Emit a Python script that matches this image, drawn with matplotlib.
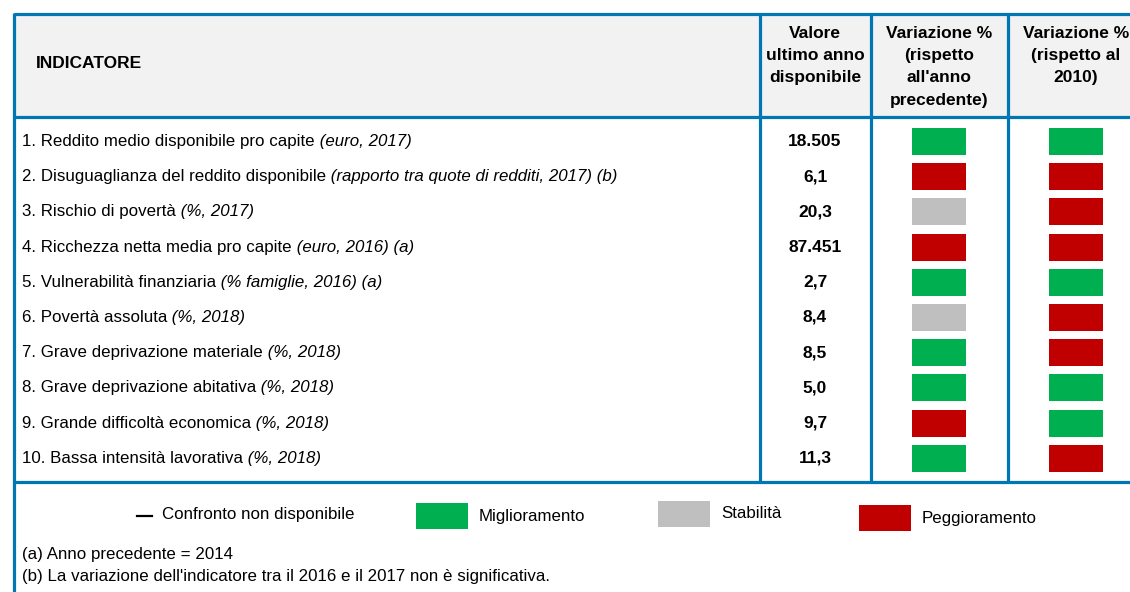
import matplotlib
matplotlib.use('Agg')
import matplotlib.pyplot as plt
from matplotlib.patches import Rectangle

plt.rcParams['font.family'] = ['Liberation Sans', 'DejaVu Sans']

# dati della tabella
nomi = ["1. Reddito medio disponibile pro capite",
        "2. Disuguaglianza del reddito disponibile",
        "3. Rischio di povertà",
        "4. Ricchezza netta media pro capite",
        "5. Vulnerabilità finanziaria",
        "6. Povertà assoluta",
        "7. Grave deprivazione materiale",
        "8. Grave deprivazione abitativa",
        "9. Grande difficoltà economica",
        "10. Bassa intensità lavorativa"]
dettagli = ["(euro, 2017)",
            "(rapporto tra quote di redditi, 2017) (b)",
            "(%, 2017)",
            "(euro, 2016) (a)",
            "(% famiglie, 2016) (a)",
            "(%, 2018)",
            "(%, 2018)",
            "(%, 2018)",
            "(%, 2018)",
            "(%, 2018)"]
valori = ["18.505", "6,1", "20,3", "87.451", "2,7", "8,4", "8,5", "5,0", "9,7", "11,3"]
# M = miglioramento, S = stabilita, P = peggioramento
var_anno_prec = ["M", "P", "S", "P", "M", "S", "M", "M", "P", "M"]
var_2010 = ["M", "P", "P", "P", "M", "P", "P", "M", "M", "P"]

intestazioni = [["Valore", "ultimo anno", "disponibile"],
                ["Variazione %", "(rispetto", "all'anno", "precedente)"],
                ["Variazione %", "(rispetto al", "2010)"]]
legenda_etichette = ["Miglioramento", "Stabilità", "Peggioramento"]
note = ["(a) Anno precedente = 2014",
        "(b) La variazione dell'indicatore tra il 2016 e il 2017 non è significativa."]

colori = {"M": "#00b050", "S": "#bfbfbf", "P": "#c00000"}
blu = "#0077b3"

fig = plt.figure(figsize=(11.3, 5.92), dpi=100)
ax = fig.add_axes([0, 0, 1, 1])
ax.set_xlim(0, 1130)
ax.set_ylim(592, 0)
ax.axis('off')

# sfondo intestazione
ax.add_patch(Rectangle((13, 13), 1140, 103, facecolor="#f2f2f2", edgecolor="none"))

# linee della tabella
lw = 2.3
for y in [13.5, 116.5, 481.5]:
    ax.plot([13.5, 1140], [y, y], color=blu, lw=lw, solid_capstyle='butt')
ax.plot([13.5, 13.5], [12.5, 600], color=blu, lw=lw, solid_capstyle='butt')
for x in [759.5, 870.5, 1007.5]:
    ax.plot([x, x], [12.5, 482.5], color=blu, lw=lw, solid_capstyle='butt')

fs = 12.2   # testo normale
fb = 12.5   # testo in grassetto
ax.text(36, 64, "INDICATORE", fontsize=fb, fontweight='bold', va='center', ha='left')
col_centri = [815, 939, 1076]
for cx, righe in zip(col_centri, intestazioni):
    for k, r in enumerate(righe):
        ax.text(cx, 33 + 22.4 * k, r, fontsize=fb, fontweight='bold', ha='center', va='center')

for i in range(len(nomi)):
    y = 141.5 + 35.2 * i
    t1 = ax.text(22, y, nomi[i], fontsize=fs, va='center', ha='left')
    ax.annotate(" " + dettagli[i], xy=(1, 0), xycoords=t1, fontsize=fs,
                style='italic', va='bottom', ha='left')
    ax.text(col_centri[0], y, valori[i], fontsize=fb, fontweight='bold', ha='center', va='center')
    for cx, st in zip(col_centri[1:], [var_anno_prec[i], var_2010[i]]):
        ax.add_patch(Rectangle((cx - 27, y - 13.5), 54, 27, facecolor=colori[st], edgecolor='none'))

# legenda
ax.plot([137, 152], [516, 516], color='black', lw=1.6)
ax.text(162, 515, "Confronto non disponibile", fontsize=fs, va='center', ha='left')
leg_x = [416, 658, 859]
leg_y = [516, 514, 518]
for lx, ly, et, st in zip(leg_x, leg_y, legenda_etichette, ["M", "S", "P"]):
    ax.add_patch(Rectangle((lx, ly - 13), 52, 26, facecolor=colori[st], edgecolor='none'))
    ax.text(lx + 63, ly, et, fontsize=fs, va='center', ha='left')

for k, n in enumerate(note):
    ax.text(22, 554 + 22 * k, n, fontsize=fs, va='center', ha='left')

fig.savefig("out.png", dpi=100)
